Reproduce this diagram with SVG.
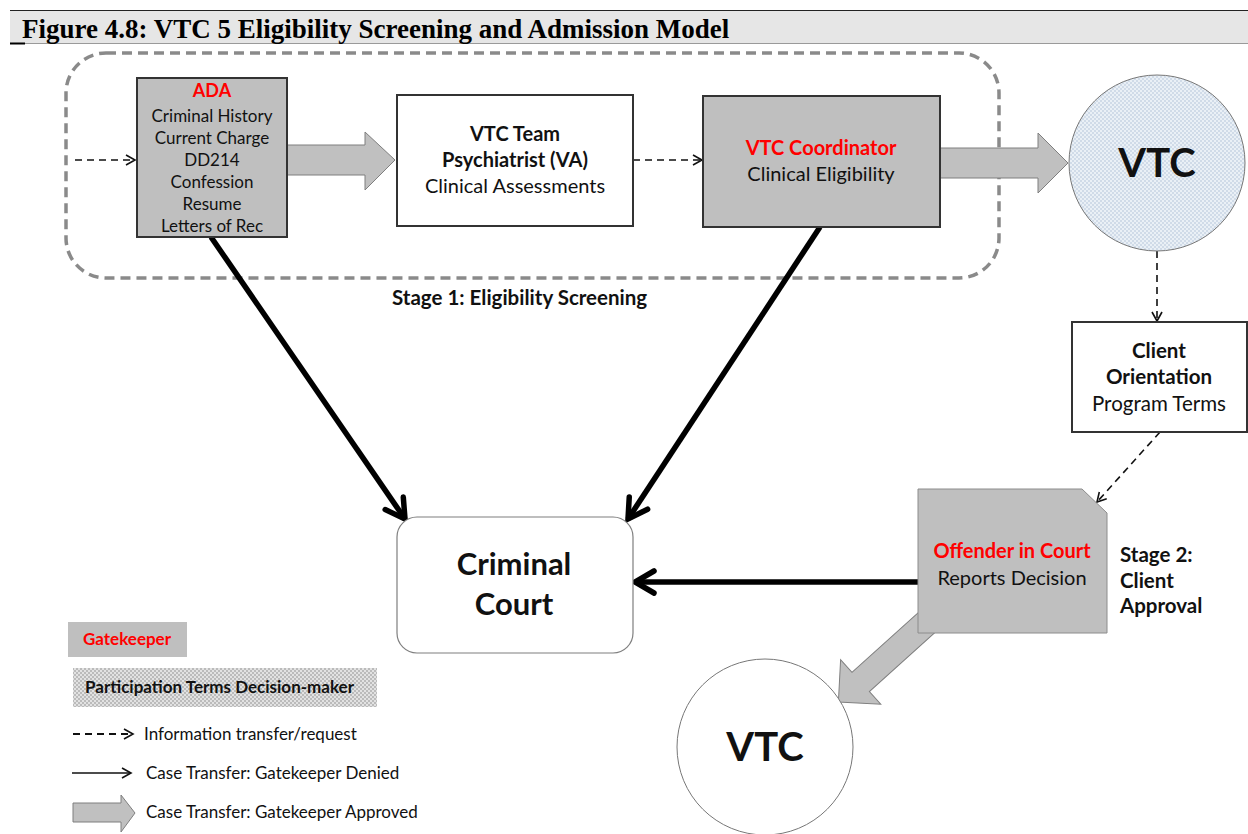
<svg xmlns="http://www.w3.org/2000/svg" width="1248" height="834" viewBox="0 0 1248 834">
  <style>
    .sans { font-family: Lato, "Liberation Sans", sans-serif; fill: #111; }
    .b { font-weight: bold; }
    .red { fill: #ff0000; }
    .mid { text-anchor: middle; }
    .gate { fill: #bfbfbf; stroke: #333; stroke-width: 2; }
    .plain { fill: #fff; stroke: #333; stroke-width: 2; }
    .fat { fill: #c0c0c0; stroke: #7f7f7f; stroke-width: 1; }
    .info { fill: none; stroke: #111; stroke-width: 1.6; stroke-dasharray: 7 5; marker-end: url(#thin); }
    .deny { fill: none; stroke: #000; stroke-width: 5.5; marker-end: url(#thick); }
  </style>
  <defs>
    <marker id="thin" markerUnits="userSpaceOnUse" markerWidth="14" markerHeight="14" viewBox="0 0 14 14" refX="12" refY="7" orient="auto">
      <path d="M3,2 L12,7 L3,12" fill="none" stroke="#111" stroke-width="1.6"/>
    </marker>
    <marker id="thick" markerUnits="userSpaceOnUse" markerWidth="30" markerHeight="30" viewBox="0 0 30 30" refX="25" refY="15" orient="auto">
      <path d="M6,4 L25,15 L6,26" fill="none" stroke="#000" stroke-width="5.5" stroke-linecap="round"/>
    </marker>
    <pattern id="dotsBlue" width="4" height="4" patternUnits="userSpaceOnUse">
      <rect width="4" height="4" fill="#eaf0f6"/>
      <circle cx="1" cy="1" r="0.7" fill="#a3b7cf"/>
      <circle cx="3" cy="3" r="0.7" fill="#a3b7cf"/>
    </pattern>
    <pattern id="dotsGray" width="4" height="4" patternUnits="userSpaceOnUse">
      <rect width="4" height="4" fill="#e2e2e2"/>
      <circle cx="1" cy="1" r="0.8" fill="#8a8a8a"/>
      <circle cx="3" cy="3" r="0.8" fill="#8a8a8a"/>
    </pattern>
  </defs>

  <rect width="1248" height="834" fill="#fff"/>

  <!-- caption band -->
  <g id="caption">
    <rect x="10" y="10" width="1238" height="33" fill="#e6e6e6"/>
    <line x1="10" y1="10.5" x2="1248" y2="10.5" stroke="#222" stroke-width="1"/>
    <line x1="10" y1="43.5" x2="1248" y2="43.5" stroke="#9a9a9a" stroke-width="1"/>
    <line x1="10" y1="43.5" x2="25" y2="43.5" stroke="#000" stroke-width="2"/>
    <text x="22" y="38" font-family="'Liberation Serif', serif" font-weight="bold" font-size="27" fill="#000">Figure 4.8: VTC 5 Eligibility Screening and Admission Model</text>
  </g>

  <!-- stage 1 boundary -->
  <g id="stage1">
    <rect x="66" y="53" width="933" height="225" rx="40" ry="40" fill="none" stroke="#8a8a8a" stroke-width="3.5" stroke-dasharray="10 6"/>
    <text class="sans b" x="392" y="305" font-size="20.5">Stage 1: Eligibility Screening</text>
  </g>

  <!-- connectors -->
  <g id="connectors">
    <line class="info" x1="75" y1="160" x2="135" y2="160"/>
    <line class="info" x1="633" y1="160" x2="702" y2="160"/>
    <line class="info" x1="1157" y1="251" x2="1157" y2="321"/>
    <line class="info" x1="1160" y1="432" x2="1097" y2="502"/>
    <line class="deny" x1="211" y1="237" x2="405" y2="519"/>
    <line class="deny" x1="820" y1="227" x2="628" y2="519"/>
    <line class="deny" x1="918" y1="582" x2="635" y2="582"/>
    <polygon class="fat" points="287,145 365,145 365,132 395,160 365,190 365,175 287,175"/>
    <polygon class="fat" points="940,148 1038,148 1038,133 1068,163 1038,193 1038,178 940,178"/>
    <polygon class="fat" transform="translate(935,615) rotate(138)" points="0,-13 100,-13 100,-30 130,0 100,30 100,13 0,13"/>
  </g>

  <g id="ada">
    <rect class="gate" x="137" y="78" width="150" height="159"/>
    <text class="sans b red mid" x="212" y="97" font-size="18">ADA</text>
    <text class="sans mid" x="212" y="122" font-size="17">Criminal History</text>
    <text class="sans mid" x="212" y="144" font-size="17">Current Charge</text>
    <text class="sans mid" x="212" y="166" font-size="17">DD214</text>
    <text class="sans mid" x="212" y="188" font-size="17">Confession</text>
    <text class="sans mid" x="212" y="210" font-size="17">Resume</text>
    <text class="sans mid" x="212" y="232" font-size="17">Letters of Rec</text>
  </g>

  <g id="psychiatrist">
    <rect class="plain" x="397" y="95" width="236" height="131"/>
    <text class="sans b mid" x="515" y="141" font-size="20">VTC Team</text>
    <text class="sans b mid" x="515" y="167" font-size="20">Psychiatrist (VA)</text>
    <text class="sans mid" x="515" y="193" font-size="20">Clinical Assessments</text>
  </g>

  <g id="coordinator">
    <rect class="gate" x="703" y="96" width="237" height="131"/>
    <text class="sans b red mid" x="821" y="155" font-size="20">VTC Coordinator</text>
    <text class="sans mid" x="821" y="181" font-size="20">Clinical Eligibility</text>
  </g>

  <g id="vtc-top">
    <circle cx="1157" cy="163" r="88" fill="url(#dotsBlue)" stroke="#777" stroke-width="1"/>
    <text class="sans b mid" x="1157" y="177" font-size="40" fill="#000">VTC</text>
  </g>

  <g id="orientation">
    <rect class="plain" x="1072" y="322" width="175" height="110"/>
    <text class="sans b mid" x="1159" y="358" font-size="20.5">Client</text>
    <text class="sans b mid" x="1159" y="384" font-size="20.5">Orientation</text>
    <text class="sans mid" x="1159" y="411" font-size="20.5">Program Terms</text>
  </g>

  <g id="offender">
    <polygon points="918,489 1082,489 1107,513 1107,633 918,633" fill="#bfbfbf" stroke="#8c8c8c" stroke-width="1"/>
    <text class="sans b red mid" x="1012" y="558" font-size="20">Offender in Court</text>
    <text class="sans mid" x="1012" y="585" font-size="20">Reports Decision</text>
  </g>

  <g id="stage2">
    <text class="sans b" x="1120" y="562" font-size="20.5">Stage 2:</text>
    <text class="sans b" x="1120" y="588" font-size="20.5">Client</text>
    <text class="sans b" x="1120" y="613" font-size="20.5">Approval</text>
  </g>

  <g id="court">
    <rect x="397" y="517" width="236" height="136" rx="20" ry="20" fill="#fff" stroke="#7f7f7f" stroke-width="1.2"/>
    <text class="sans b mid" x="514" y="575" font-size="31" fill="#000">Criminal</text>
    <text class="sans b mid" x="514" y="615" font-size="31" fill="#000">Court</text>
  </g>

  <g id="vtc-bottom">
    <circle cx="765" cy="747" r="88" fill="#fff" stroke="#777" stroke-width="1"/>
    <text class="sans b mid" x="765" y="761" font-size="40" fill="#000">VTC</text>
  </g>

  <!-- key -->
  <g id="legend">
    <rect x="68" y="622" width="119" height="35" fill="#bfbfbf"/>
    <text class="sans b red" x="83" y="645" font-size="17">Gatekeeper</text>
    <rect x="73" y="668" width="304" height="39" fill="url(#dotsGray)"/>
    <text class="sans b" x="85" y="693" font-size="17" fill="#000">Participation Terms Decision-maker</text>
    <line x1="73" y1="734" x2="133" y2="734" fill="none" stroke="#111" stroke-width="1.8" stroke-dasharray="7 5" marker-end="url(#thin)"/>
    <text class="sans" x="144" y="740" font-size="17">Information transfer/request</text>
    <line x1="72" y1="773" x2="131" y2="773" stroke="#111" stroke-width="1.6" marker-end="url(#thin)"/>
    <text class="sans" x="146" y="779" font-size="17">Case Transfer: Gatekeeper Denied</text>
    <polygon class="fat" points="73,803 121,803 121,795 135,813 121,832 121,822 73,822"/>
    <text class="sans" x="146" y="818" font-size="17">Case Transfer: Gatekeeper Approved</text>
  </g>
</svg>
